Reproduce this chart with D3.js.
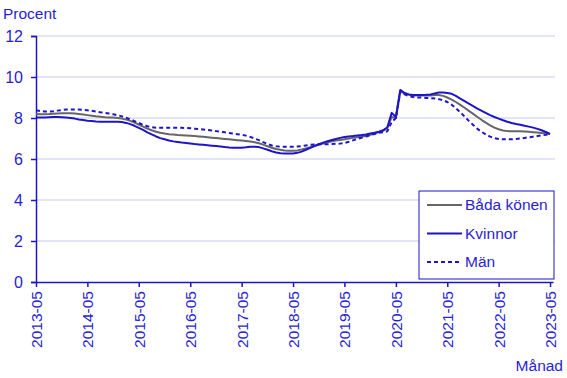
<!DOCTYPE html>
<html>
<head>
<meta charset="utf-8">
<script src="https://cdn.jsdelivr.net/npm/d3@7"></script>
<style>
  body { margin: 0; background: #fff; }
  text { font-family: "Liberation Sans", Arial, sans-serif; }
</style>
</head>
<body>
<div id="chart"></div>
<script>
// monthly values, 2013-05 .. 2023-05
var startYear = 2013, startMonth = 5;

var bada = [
  8.20, 8.18, 8.18, 8.19, 8.21, 8.22, 8.23, 8.23, 8.23, 8.22, 8.20, 8.17,
  8.14, 8.11, 8.08, 8.06, 8.04, 8.03, 8.02, 8.00, 7.97, 7.92, 7.86, 7.78,
  7.68, 7.58, 7.48, 7.40, 7.33, 7.28, 7.24, 7.21, 7.19, 7.17, 7.16, 7.15,
  7.14, 7.12, 7.10, 7.08, 7.06, 7.04, 7.02, 7.00, 6.98, 6.96, 6.94, 6.92,
  6.90, 6.88, 6.85, 6.82, 6.77, 6.70, 6.62, 6.55, 6.49, 6.45, 6.42, 6.40,
  6.40, 6.42, 6.46, 6.52, 6.58, 6.65, 6.71, 6.76, 6.81, 6.86, 6.90, 6.93,
  6.96, 7.00, 7.03, 7.06, 7.09, 7.13, 7.18, 7.24, 7.32, 7.38, 7.50, 8.05,
  8.00, 9.30, 9.20, 9.14, 9.10, 9.10, 9.10, 9.10, 9.10, 9.12, 9.12, 9.08,
  9.00, 8.90, 8.78, 8.64, 8.50, 8.35, 8.20, 8.05, 7.90, 7.76, 7.64, 7.53,
  7.45, 7.39, 7.36, 7.35, 7.35, 7.35, 7.34, 7.33, 7.31, 7.29, 7.27, 7.25,
  7.22
];

var kvinnor = [
  8.02, 8.02, 8.03, 8.04, 8.05, 8.05, 8.04, 8.02, 8.00, 7.97, 7.93, 7.90,
  7.87, 7.85, 7.83, 7.82, 7.82, 7.82, 7.82, 7.82, 7.80, 7.76, 7.70, 7.62,
  7.52, 7.42, 7.30, 7.20, 7.10, 7.02, 6.96, 6.90, 6.86, 6.83, 6.80, 6.78,
  6.76, 6.73, 6.71, 6.69, 6.67, 6.65, 6.63, 6.61, 6.58, 6.56, 6.55, 6.55,
  6.55, 6.57, 6.60, 6.60, 6.58, 6.52, 6.45, 6.38, 6.32, 6.28, 6.27, 6.27,
  6.27, 6.30, 6.36, 6.45, 6.54, 6.63, 6.72, 6.80, 6.87, 6.93, 6.98, 7.03,
  7.07, 7.10, 7.12, 7.15, 7.17, 7.20, 7.24, 7.28, 7.33, 7.40, 7.55, 8.25,
  8.05, 9.37, 9.22, 9.15, 9.12, 9.12, 9.12, 9.13, 9.15, 9.20, 9.24, 9.24,
  9.22, 9.18, 9.08, 8.95, 8.82, 8.70, 8.58, 8.46, 8.35, 8.24, 8.14, 8.05,
  7.97, 7.89, 7.82, 7.76, 7.71, 7.67, 7.62, 7.58, 7.53, 7.47, 7.40, 7.32,
  7.22
];

var man = [
  8.38, 8.34, 8.32, 8.32, 8.33, 8.36, 8.39, 8.41, 8.42, 8.42, 8.41, 8.40,
  8.38, 8.35, 8.32, 8.28, 8.25, 8.22, 8.18, 8.14, 8.08, 8.01, 7.93, 7.85,
  7.76, 7.67, 7.60, 7.55, 7.53, 7.53, 7.53, 7.53, 7.53, 7.53, 7.52, 7.51,
  7.50, 7.48, 7.46, 7.44, 7.42, 7.39, 7.36, 7.33, 7.30, 7.27, 7.24, 7.21,
  7.18, 7.14, 7.08, 7.00, 6.92, 6.82, 6.73, 6.66, 6.62, 6.60, 6.60, 6.60,
  6.60, 6.61, 6.63, 6.66, 6.69, 6.71, 6.72, 6.72, 6.72, 6.73, 6.74, 6.75,
  6.78, 6.84, 6.91, 6.98, 7.04, 7.10, 7.16, 7.22, 7.28, 7.30, 7.35, 7.80,
  8.00, 9.30, 9.15, 9.07, 9.02, 9.00, 9.00, 8.98, 8.97, 8.95, 8.92, 8.87,
  8.78, 8.65, 8.48, 8.28, 8.07, 7.86, 7.66, 7.47, 7.32, 7.19, 7.09, 7.02,
  6.98, 6.96, 6.96, 6.96, 6.98, 7.00, 7.03, 7.06, 7.09, 7.12, 7.15, 7.18,
  7.20
];

var yTicks = [0, 2, 4, 6, 8, 10, 12];
var xTickLabels = ["2013-05", "2014-05", "2015-05", "2016-05", "2017-05", "2018-05",
                   "2019-05", "2020-05", "2021-05", "2022-05", "2023-05"];
var seriesNames = ["Båda könen", "Kvinnor", "Män"];

var w = 567, h = 378;
var blue = "#1e14c8", textBlue = "#2a1ed2", gray = "#666666", grid = "#c9c9f2";

var months = d3.range(bada.length).map(function (i) {
    return new Date(startYear, startMonth - 1 + i, 1);
});

var series = [
    { name: seriesNames[0], values: bada, color: gray, dash: null },
    { name: seriesNames[1], values: kvinnor, color: blue, dash: null },
    { name: seriesNames[2], values: man, color: blue, dash: "4,3" }
];

var svg = d3.select("#chart").append("svg")
    .attr("width", w)
    .attr("height", h);

var x = d3.scaleTime()
    .domain([months[0], new Date(2023, 4, 22)])
    .range([36, 553]);

var y = d3.scaleLinear()
    .domain([0, 12])
    .range([282, 36]);

// gridlines
svg.append("g").selectAll("line")
    .data(yTicks.filter(function (d) { return d > 0; }))
    .enter().append("line")
    .attr("x1", 36).attr("x2", 555)
    .attr("y1", function (d) { return y(d); })
    .attr("y2", function (d) { return y(d); })
    .style("stroke", grid)
    .style("stroke-width", "1px");

// y axis
var yAxis = svg.append("g")
    .attr("transform", "translate(36,0)")
    .call(d3.axisLeft(y).tickValues(yTicks).tickSize(5).tickPadding(8));
yAxis.select(".domain").attr("stroke", blue).attr("stroke-width", 1.5);
yAxis.selectAll(".tick line").attr("stroke", blue).attr("stroke-width", 1.5);
yAxis.selectAll("text")
    .attr("fill", textBlue)
    .style("font-size", "16px");

// x axis
var xTicks = xTickLabels.map(function (s) {
    var p = s.split("-");
    return new Date(+p[0], +p[1] - 1, 1);
});
var xAxis = svg.append("g")
    .attr("transform", "translate(0,282)")
    .call(d3.axisBottom(x).tickValues(xTicks).tickSize(5).tickSizeOuter(0)
        .tickFormat(d3.timeFormat("%Y-%m")));
xAxis.select(".domain").attr("stroke", blue).attr("stroke-width", 1.5);
xAxis.selectAll(".tick line").attr("stroke", blue).attr("stroke-width", 1.5);
xAxis.selectAll("text")
    .attr("fill", textBlue)
    .style("font-size", "15.5px")
    .attr("text-anchor", "end")
    .attr("dy", "0.35em")
    .attr("transform", "translate(0,9) rotate(-90)")
    .attr("x", 0)
    .attr("y", 0);

// lines
var line = d3.line()
    .x(function (d, i) { return x(months[i]); })
    .y(function (d) { return y(d); });

svg.append("g").selectAll("path")
    .data(series)
    .enter().append("path")
    .attr("d", function (d) { return line(d.values); })
    .style("fill", "none")
    .style("stroke", function (d) { return d.color; })
    .style("stroke-width", "2px")
    .style("stroke-dasharray", function (d) { return d.dash; })
    .style("stroke-linejoin", "round");

// axis titles
svg.append("text")
    .attr("x", 3).attr("y", 19)
    .attr("fill", textBlue)
    .style("font-size", "15.5px")
    .text("Procent");

svg.append("text")
    .attr("x", 563).attr("y", 371)
    .attr("text-anchor", "end")
    .attr("fill", textBlue)
    .style("font-size", "15.5px")
    .text("Månad");

// legend
var legend = svg.append("g").attr("transform", "translate(419,191)");
legend.append("rect")
    .attr("width", 135).attr("height", 88)
    .style("fill", "#fff")
    .style("stroke", blue)
    .style("stroke-width", "1px");

var item = legend.selectAll("g.item")
    .data(series)
    .enter().append("g")
    .attr("class", "item")
    .attr("transform", function (d, i) { return "translate(0," + (14 + i * 28.5) + ")"; });

item.append("line")
    .attr("x1", 8).attr("x2", 43)
    .style("stroke", function (d) { return d.color; })
    .style("stroke-width", "2px")
    .style("stroke-dasharray", function (d) { return d.dash; });

item.append("text")
    .attr("x", 46).attr("dy", "0.35em")
    .attr("fill", textBlue)
    .style("font-size", "15.5px")
    .text(function (d) { return d.name; });
</script>
</body>
</html>
